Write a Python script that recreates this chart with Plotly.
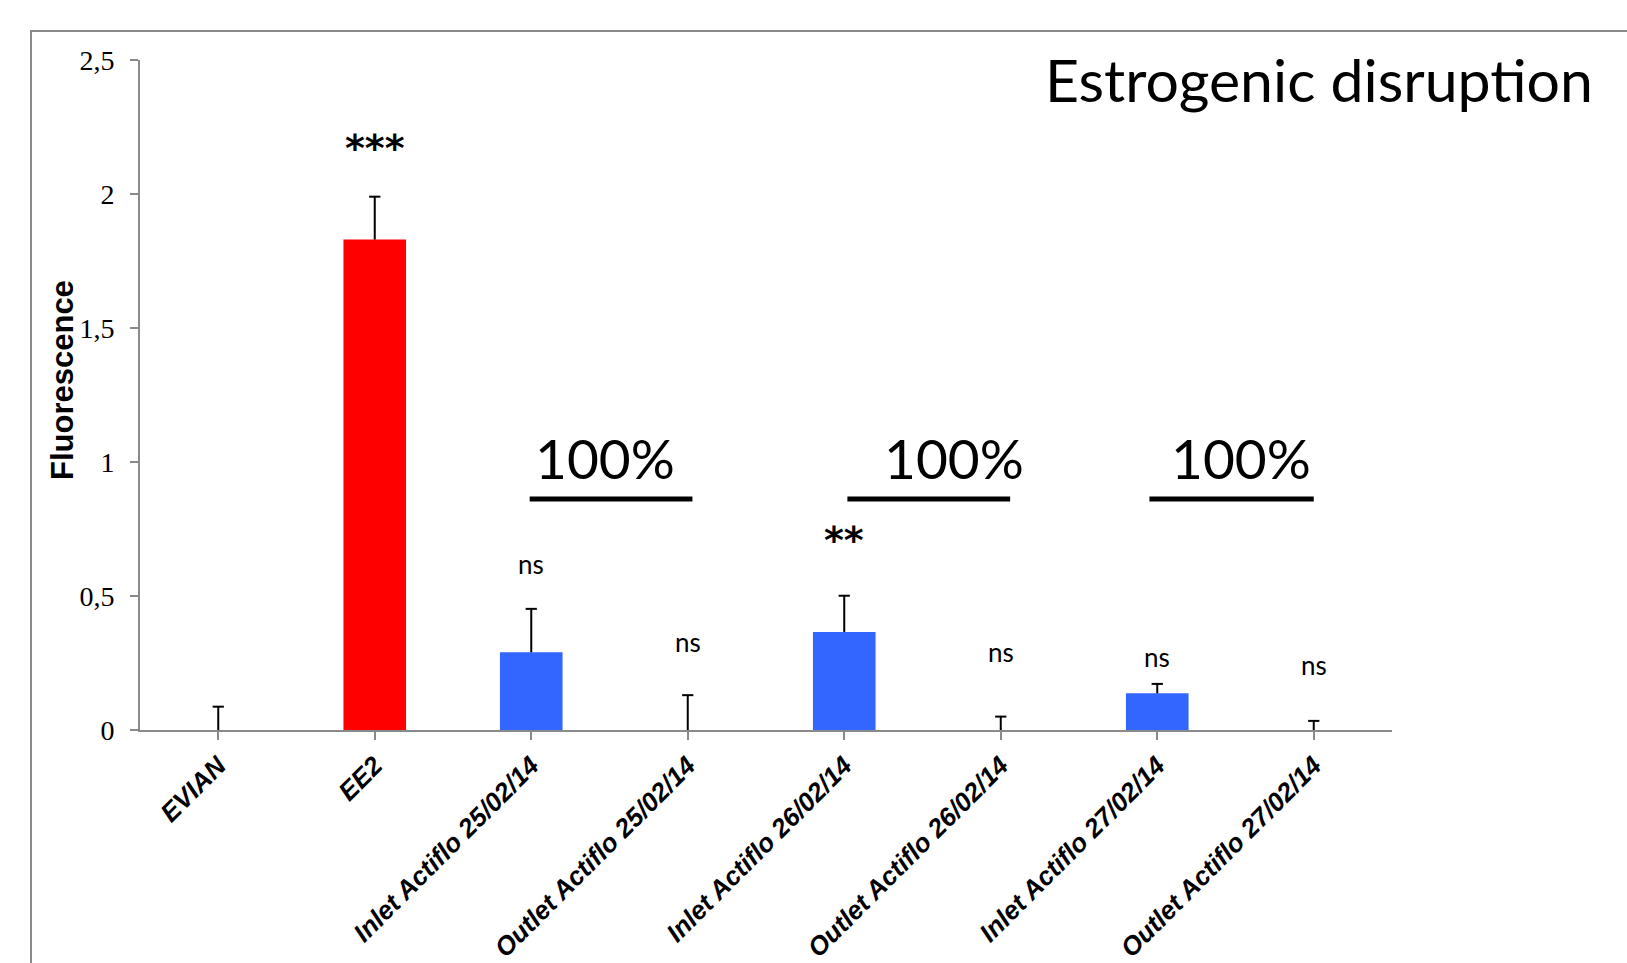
import plotly.graph_objects as go

# Samples, mean fluorescence and upper standard error
categories = [
    "EVIAN", "EE2",
    "Inlet Actiflo 25/02/14", "Outlet Actiflo 25/02/14",
    "Inlet Actiflo 26/02/14", "Outlet Actiflo 26/02/14",
    "Inlet Actiflo 27/02/14", "Outlet Actiflo 27/02/14",
]
fluorescence = [0.0, 1.83, 0.29, 0.0, 0.366, 0.0, 0.137, 0.0]
error_up = [0.087, 0.16, 0.162, 0.13, 0.135, 0.05, 0.035, 0.034]
bar_colors = ["#FF0000", "#FF0000", "#3366FF", "#3366FF", "#3366FF", "#3366FF", "#3366FF", "#3366FF"]

# Significance labels and the height at which each is printed
significance = ["", "***", "ns", "ns", "**", "ns", "ns", "ns"]
label_height = [0, 2.17, 0.619, 0.329, 0.71, 0.292, 0.271, 0.243]

# Removal between inlet and outlet for each day
removal_pct = [100, 100, 100]
removal_line_span = [(1.99, 3.03), (4.02, 5.06), (5.95, 7.0)]
removal_label_x = [2.471, 4.70, 6.535]

W, H = 1627, 963
L, R, T, B = 140, 235, 60, 233
CAP = 0.036  # half-width of error-bar caps, in category units

xs = list(range(len(categories)))

fig = go.Figure()
fig.add_trace(go.Bar(
    x=xs,
    y=fluorescence,
    width=0.4,
    marker=dict(color=bar_colors, line=dict(width=0)),
    showlegend=False,
))

# upper-only error bars: stem from the bar top plus a cap
ex, ey = [], []
for i, (v, e) in enumerate(zip(fluorescence, error_up)):
    ex += [i, i, None, i - CAP, i + CAP, None]
    ey += [v, v + e, None, v + e, v + e, None]
fig.add_trace(go.Scatter(
    x=ex, y=ey, mode="lines", line=dict(color="black", width=2),
    hoverinfo="skip", showlegend=False, cliponaxis=False,
))

annotations = []
for i, (txt, h) in enumerate(zip(significance, label_height)):
    if not txt:
        continue
    star = "*" in txt
    annotations.append(dict(
        x=i, y=h, xref="x", yref="y", text=txt, showarrow=False,
        xanchor="center", yanchor="middle",
        font=dict(family="DejaVu Sans" if star else "Lato",
                  size=38 if star else 26, color="black",
                  weight="bold" if star else "normal"),
    ))

shapes = []
for (a, b), pct, lx in zip(removal_line_span, removal_pct, removal_label_x):
    shapes.append(dict(type="line", xref="x", yref="y", x0=a, x1=b,
                       y0=0.862, y1=0.862, line=dict(color="black", width=5)))
    annotations.append(dict(
        x=lx, y=1.014, xref="x", yref="y", text=f"{pct}%", showarrow=False,
        xanchor="center", yanchor="middle",
        font=dict(family="Lato", size=55, color="black"),
    ))

# y-axis title
pw, ph = W - L - R, H - B - T
annotations.append(dict(
    x=(62 - L) / pw, y=(H - B - 380) / ph,
    xref="paper", yref="paper", text="Fluorescence", textangle=-90,
    showarrow=False, xanchor="center", yanchor="middle",
    font=dict(family="Liberation Sans", size=31, color="black", weight="bold"),
))

# outer chart frame
shapes.append(dict(type="rect", xref="paper", yref="paper",
                   x0=(31 - L) / pw, x1=(W + 20 - L) / pw,
                   y0=(H - B - (H + 30)) / ph, y1=(H - B - 31) / ph,
                   line=dict(color="#8a8a8a", width=2), layer="below"))

fig.update_layout(
    template="none",
    width=W, height=H, autosize=False,
    margin=dict(l=L, r=R, t=T, b=B, pad=0),
    paper_bgcolor="white", plot_bgcolor="white",
    separators=", ",
    title=dict(text="Estrogenic disruption", x=1593 / W, xanchor="right",
               y=1 - 81 / H, yanchor="middle", xref="container", yref="container",
               font=dict(family="Lato", size=59, color="black")),
    shapes=shapes,
    annotations=annotations,
    xaxis=dict(
        tickmode="array", tickvals=xs, ticktext=categories,
        range=[-0.5, len(categories) - 0.5],
        tickangle=-45, showline=True, linecolor="#8a8a8a", linewidth=2,
        ticks="outside", ticklen=8, tickwidth=2, tickcolor="#8a8a8a",
        showgrid=False, zeroline=False, automargin=False,
        tickfont=dict(family="Liberation Sans", size=26, color="black",
                      weight="bold", style="italic"),
    ),
    yaxis=dict(
        range=[0, 2.5], tickmode="linear", tick0=0, dtick=0.5,
        showline=True, linecolor="#8a8a8a", linewidth=2,
        ticks="outside", ticklen=8, tickwidth=2, tickcolor="#8a8a8a",
        showgrid=False, zeroline=False, automargin=False,
        ticklabelstandoff=10,
        tickfont=dict(family="Liberation Serif", size=28, color="black"),
    ),
)

fig.write_html("out.html")
